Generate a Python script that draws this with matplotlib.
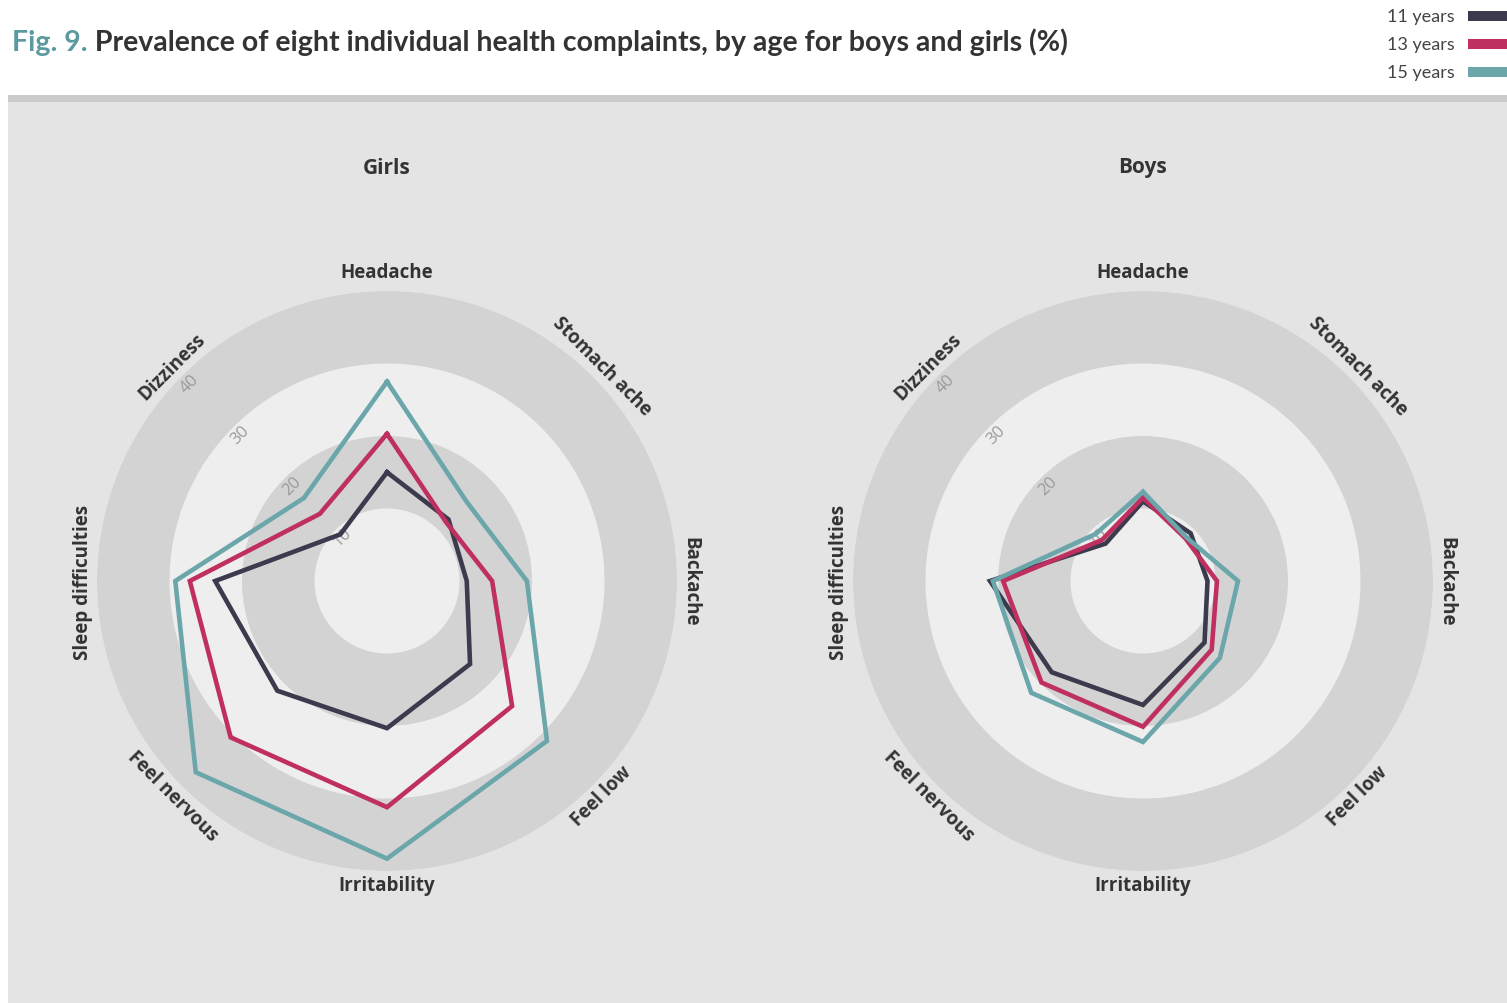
import numpy as np
import matplotlib
matplotlib.use('Agg')
import matplotlib.pyplot as plt
from matplotlib.patches import Rectangle
from matplotlib.text import Annotation

# data (%)
CATEGORIES = ['Headache', 'Stomach ache', 'Backache', 'Feel low',
              'Irritability', 'Feel nervous', 'Sleep difficulties', 'Dizziness']
AGES = ['11 years', '13 years', '15 years']
GIRLS_11 = [15.0, 12.0, 11.0, 16.2, 20.3, 21.4, 23.7, 9.1]
GIRLS_13 = [20.3, 11.5, 14.5, 24.4, 31.2, 30.5, 27.2, 13.1]
GIRLS_15 = [27.5, 15.5, 19.3, 31.2, 38.3, 37.3, 29.2, 16.2]
BOYS_11 = [11.0, 9.3, 8.9, 12.0, 17.1, 17.8, 21.1, 7.3]
BOYS_13 = [11.5, 8.3, 10.2, 13.4, 20.1, 19.8, 19.3, 8.0]
BOYS_15 = [12.3, 8.5, 13.1, 15.0, 22.2, 21.8, 20.7, 9.2]
RINGS = [10, 20, 30, 40]

COLORS = ['#3b3b4d', '#bf3060', '#6aa6aa']
PANEL = '#e4e4e4'
BAND_DARK = '#d3d3d3'
BAND_LIGHT = '#eeeeee'
TXT = '#333333'
LBL_FONT = ['Open Sans', 'DejaVu Sans']
NARROW = ['Lato', 'DejaVu Sans']

W, H = 1507, 1004
fig = plt.figure(figsize=(W / 100, H / 100), dpi=100)
fig.patch.set_facecolor('white')

# grey panel with darker top strip
fig.add_artist(Rectangle((8 / W, 0), 1, (H - 100) / H, transform=fig.transFigure,
                         facecolor=PANEL, edgecolor='none', zorder=0))
fig.add_artist(Rectangle((8 / W, (H - 103) / H), 1, 7 / H, transform=fig.transFigure,
                         facecolor='#cbcbcb', edgecolor='none', zorder=0))

# title
t1 = fig.text(12 / W, 1 - 43 / H, 'Fig. 9.', color='#5b9aa0', fontsize=20.5,
              fontweight='bold', family=NARROW, va='center', ha='left')
fig.add_artist(Annotation(
    ' Prevalence of eight individual health complaints, by age for boys and girls (%)',
    xy=(1, 0), xycoords=t1, va='bottom', ha='left', color=TXT,
    fontsize=20.5, fontweight='bold', family=NARROW, annotation_clip=False))

# legend at top right
for i, age in enumerate(AGES):
    y = 1 - (17 + 28 * i) / H
    fig.text(1455 / W, y, age, color='#444444', fontsize=13, family=NARROW,
             ha='right', va='center')
    fig.add_artist(Rectangle((1468 / W, y - 5 / H), 45 / W, 10 / H,
                             transform=fig.transFigure, facecolor=COLORS[i],
                             edgecolor='none'))

angles = np.linspace(0, 2 * np.pi, len(CATEGORIES), endpoint=False)


def radar(cx, title, series):
    rad = 290
    ax = fig.add_axes([(cx - rad) / W, (H - 582 - rad) / H, 2 * rad / W, 2 * rad / H],
                      projection='polar')
    ax.set_theta_zero_location('N')
    ax.set_theta_direction(-1)
    ax.set_ylim(0, 40)
    ax.axis('off')

    # concentric bands
    for k, top in enumerate(RINGS[::-1]):
        col = BAND_DARK if (top // 10) % 2 == 0 else BAND_LIGHT
        ax.bar(0, top, width=2 * np.pi, bottom=0, color=col, edgecolor='none',
               zorder=1 + k * 0.01)

    # ring value labels along the Dizziness direction
    for v in RINGS:
        ax.text(np.deg2rad(315), v - 1.4, str(v), rotation=45, color='#9a9a9a',
                fontsize=12, ha='center', va='center', family=LBL_FONT,
                rotation_mode='anchor', zorder=3)

    for vals, col in zip(series, COLORS):
        ax.plot(np.append(angles, angles[0]), vals + vals[:1], color=col, lw=3.3,
                solid_joinstyle='miter', zorder=4)

    for ang, name in zip(angles, CATEGORIES):
        deg = np.rad2deg(ang)
        rot = 180 - deg if 90 < deg < 270 else -deg
        r = 42.6 if deg == 0 else 41.9
        ax.text(ang, r, name, rotation=rot, rotation_mode='anchor', ha='center',
                va='center', fontsize=13.5, fontweight='bold', color=TXT,
                family=LBL_FONT)

    fig.text(cx / W, 1 - 168 / H, title, ha='center', va='center', fontsize=15,
             fontweight='bold', color=TXT, family=LBL_FONT)


radar(387, 'Girls', [GIRLS_11, GIRLS_13, GIRLS_15])
radar(1143, 'Boys', [BOYS_11, BOYS_13, BOYS_15])

fig.savefig('out.png', dpi=100)
